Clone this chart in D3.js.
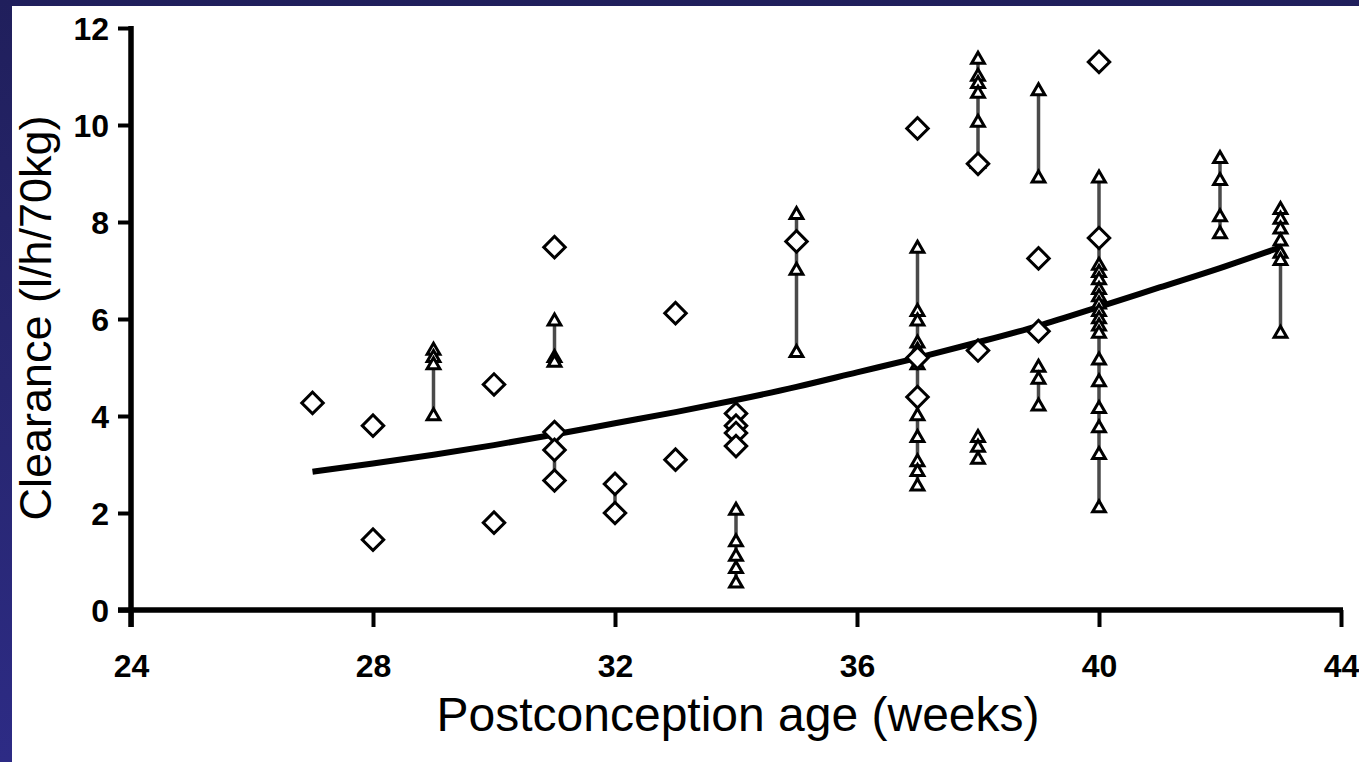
<!DOCTYPE html>
<html>
<head>
<meta charset="utf-8">
<script src="https://cdn.jsdelivr.net/npm/d3@7"></script>
<style>
  html, body { margin: 0; padding: 0; }
  body { width: 1359px; height: 762px; overflow: hidden;
         background: linear-gradient(to bottom, #201f5c 0%, #27266f 50%, #2d2b85 100%), #25246c; }
  svg { display: block; }
</style>
</head>
<body>
<svg id="chart" width="1359" height="762"></svg>
<script>
// ---- data ----
const xTicks = [24, 28, 32, 36, 40, 44];
const yTicks = [0, 2, 4, 6, 8, 10, 12];
const xTitle = "Postconception age (weeks)";
const yTitle = "Clearance (l/h/70kg)";

// fitted population curve
const curveWeeks  = [27, 28, 29, 30, 31, 32, 33, 34, 35, 36, 37, 38, 39, 40, 41, 42, 43];
const curveValues = [2.85, 3.02, 3.2, 3.4, 3.62, 3.85, 4.08, 4.33, 4.6, 4.9, 5.2, 5.52, 5.86, 6.25, 6.65, 7.05, 7.48];

// open diamonds
const diamondWeeks  = [27, 28, 28, 30, 30, 31, 31, 31, 31, 32, 32, 33, 33, 34, 34, 34, 34, 35, 37, 37, 37, 38, 38, 39, 39, 40, 40];
const diamondValues = [4.27, 3.8, 1.45, 4.65, 1.8, 7.48, 3.67, 3.3, 2.67, 2.6, 2.0, 6.12, 3.1, 4.05, 3.8, 3.65, 3.38, 7.6, 9.93, 5.2, 4.39, 9.2, 5.35, 7.25, 5.75, 11.3, 7.67];

// open triangles
const triangleWeeks = [
  29, 29, 29, 29,
  31, 31, 31,
  34, 34, 34, 34, 34,
  35, 35, 35,
  37, 37, 37, 37, 37, 37, 37, 37, 37, 37, 37,
  38, 38, 38, 38, 38, 38, 38, 38, 38,
  39, 39, 39, 39, 39,
  40, 40, 40, 40, 40, 40, 40, 40, 40, 40, 40, 40, 40, 40, 40, 40, 40,
  42, 42, 42, 42,
  43, 43, 43, 43, 43, 43, 43
];
const triangleValues = [
  5.35, 5.2, 5.05, 4.0,
  5.95, 5.2, 5.1,
  2.05, 1.4, 1.1, 0.85, 0.55,
  8.15, 7.0, 5.3,
  7.45, 6.15, 5.95, 5.5, 5.35, 5.05, 4.0, 3.55, 3.05, 2.85, 2.55,
  11.35, 11.0, 10.85, 10.65, 10.05, 9.2, 3.55, 3.35, 3.1,
  10.7, 8.9, 5.0, 4.75, 4.2,
  8.9, 7.1, 6.95, 6.8, 6.6, 6.45, 6.3, 6.15, 6.0, 5.85, 5.7, 5.15, 4.7, 4.15, 3.75, 3.2, 2.1,
  9.3, 8.85, 8.1, 7.75,
  8.25, 8.05, 7.85, 7.6, 7.35, 7.2, 5.7
];

// vertical connectors between repeated measurements
const linkWeeks = [29, 31, 31, 32, 34, 34, 35, 37, 38, 38, 39, 39, 40, 42, 43];
const linkFrom  = [4.0, 5.1, 2.67, 2.0, 3.38, 0.55, 5.3, 2.55, 9.2, 3.1, 8.9, 4.2, 2.1, 7.75, 5.7];
const linkTo    = [5.35, 5.95, 3.67, 2.6, 4.05, 2.05, 8.15, 7.45, 11.35, 3.55, 10.7, 5.0, 8.9, 9.3, 8.25];

// ---- drawing ----
const svg = d3.select("#chart");
const FONT = "'Liberation Sans', Arial, Helvetica, sans-serif";

svg.append("rect").attr("x", 12).attr("y", 6).attr("width", 1347).attr("height", 756).attr("fill", "#ffffff");

const x = d3.scaleLinear().domain([24, 44]).range([131, 1341]);
const y = d3.scaleLinear().domain([0, 12]).range([610, 28]);

// curve
const line = d3.line().x((d, i) => x(curveWeeks[i])).y(d => y(d)).curve(d3.curveMonotoneX);
svg.append("path").datum(curveValues)
  .attr("d", line).attr("fill", "none").attr("stroke", "#000").attr("stroke-width", 6);

// connectors
svg.append("g").selectAll("line").data(linkWeeks).join("line")
  .attr("x1", d => x(d)).attr("x2", d => x(d))
  .attr("y1", (d, i) => y(linkFrom[i])).attr("y2", (d, i) => y(linkTo[i]))
  .attr("stroke", "#4a4a4a").attr("stroke-width", 3.5);

// triangles
const triSym = d3.symbol().type(d3.symbolTriangle).size(70);
svg.append("g").selectAll("path").data(triangleWeeks).join("path")
  .attr("d", triSym)
  .attr("transform", (d, i) => `translate(${x(d)},${y(triangleValues[i])})`)
  .attr("fill", "#fff").attr("stroke", "#000").attr("stroke-width", 3);

// diamonds (rotated squares)
const diaSym = d3.symbol().type(d3.symbolSquare).size(230);
svg.append("g").selectAll("path").data(diamondWeeks).join("path")
  .attr("d", diaSym)
  .attr("transform", (d, i) => `translate(${x(d)},${y(diamondValues[i])}) rotate(45)`)
  .attr("fill", "#fff").attr("stroke", "#000").attr("stroke-width", 3);

// axes
const xAxis = d3.axisBottom(x).tickValues(xTicks).tickSizeInner(17).tickSizeOuter(0).tickPadding(27).tickFormat(d3.format("d"));
const yAxis = d3.axisLeft(y).tickValues(yTicks).tickSizeInner(13).tickSizeOuter(0).tickPadding(9).tickFormat(d3.format("d"));

const gx = svg.append("g").attr("transform", `translate(0,${y(0)})`).call(xAxis);
const gy = svg.append("g").attr("transform", `translate(${x(24)},0)`).call(yAxis);

[gx, gy].forEach(g => {
  g.select(".domain").attr("stroke", "#000").attr("stroke-width", 5.5);
  g.selectAll(".tick line").attr("stroke", "#000").attr("stroke-width", 4);
  g.selectAll(".tick text").attr("fill", "#000").attr("font-family", FONT)
    .attr("font-size", 32).attr("font-weight", "bold");
});
gy.selectAll(".tick text").attr("dy", "0.36em");
gx.select(".domain").attr("d", `M${x(24) - 13},0H${x(44) + 2}`);
gy.select(".domain").attr("d", `M0,${y(12) - 2}V${y(0) + 17}`);

// titles
svg.append("text").text(xTitle)
  .attr("x", 738).attr("y", 731).attr("text-anchor", "middle")
  .attr("font-family", FONT).attr("font-size", 48).attr("fill", "#000");

svg.append("text").text(yTitle)
  .attr("transform", "translate(51,318) rotate(-90)").attr("text-anchor", "middle")
  .attr("font-family", FONT).attr("font-size", 45).attr("fill", "#000");
</script>
</body>
</html>
